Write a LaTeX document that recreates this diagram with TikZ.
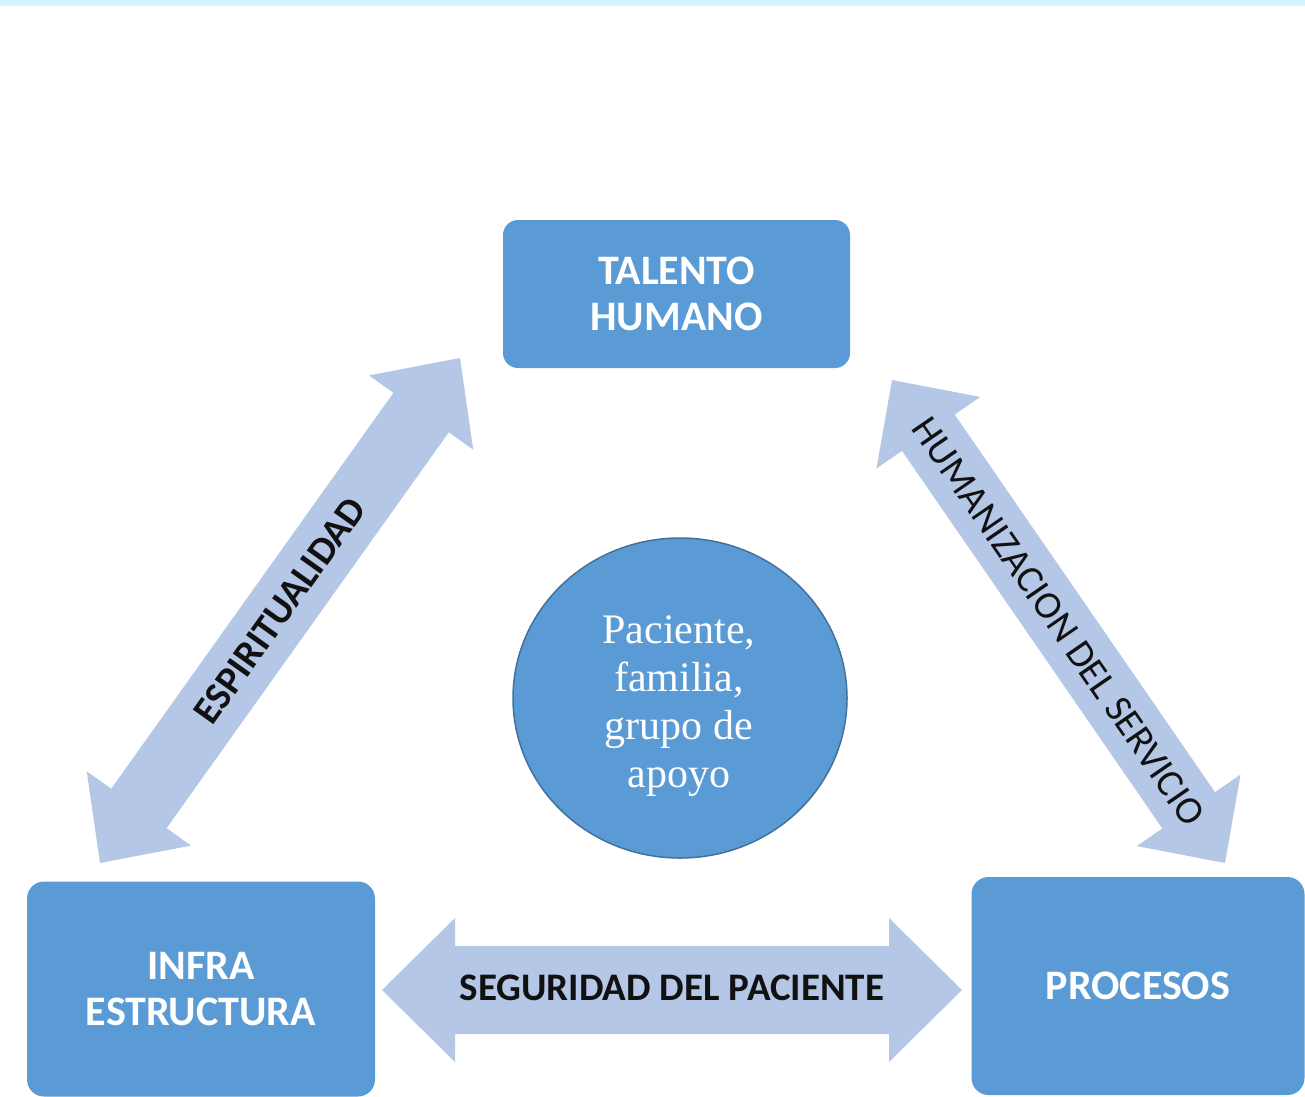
\documentclass[tikz,border=0pt]{standalone}
\usepackage{fontspec}
\setmainfont{Carlito}
\newfontfamily\circserif{Liberation Serif}
\usetikzlibrary{calc,shapes.geometric}
\definecolor{boxblue}{HTML}{5B9BD5}
\definecolor{arrowblue}{HTML}{B4C7E7}
\definecolor{circborder}{HTML}{41719C}
\definecolor{topband}{HTML}{D4F5FD}
\definecolor{lbltext}{HTML}{111111}
% double block arrow between two tip coordinates
% #1,#2 tips; #3 shaft half width; #4 head half width; #5 head length
\newcommand{\blockarrow}[5]{%
  \coordinate (ba1) at ($(#1)!#5!(#2)$);
  \coordinate (ba2) at ($(#2)!#5!(#1)$);
  \fill[arrowblue] (#1) -- ($(ba1)!#4!90:(#2)$) -- ($(ba1)!#3!90:(#2)$)
    -- ($(ba2)!#3!-90:(#1)$) -- ($(ba2)!#4!-90:(#1)$) -- (#2)
    -- ($(ba2)!#4!90:(#1)$) -- ($(ba2)!#3!90:(#1)$)
    -- ($(ba1)!#3!-90:(#2)$) -- ($(ba1)!#4!-90:(#2)$) -- cycle;}
\begin{document}
\begin{tikzpicture}[x=1pt,y=-1pt,
  box/.style={rectangle, rounded corners=15pt, fill=boxblue, text=white,
    align=center, inner sep=0pt,
    font=\bfseries\fontsize{42}{46}\selectfont},
  lblbold/.style={text=lbltext, inner sep=0pt, font=\bfseries\fontsize{39}{44}\selectfont},
  lblreg/.style={text=lbltext, inner sep=0pt, font=\fontsize{39}{44}\selectfont}]
\useasboundingbox (0,0) rectangle (1305,1096);
\fill[white] (0,0) rectangle (1305,1096);
\fill[topband] (0,0) rectangle (1305,6);

% arrow tips
\coordinate (e1) at (100,863);
\coordinate (e2) at (460,358);
\coordinate (h1) at (892,380);
\coordinate (h2) at (1225,863);
\coordinate (sL) at (382,990);
\coordinate (sR) at (962,990);

\blockarrow{e1}{e2}{34pt}{64pt}{67pt}
\blockarrow{h1}{h2}{32pt}{63pt}{64pt}
\blockarrow{sL}{sR}{44pt}{72pt}{73pt}

% boxes
\node[box, minimum width=347pt, minimum height=148pt] (th) at (676.5,294) {TALENTO\\HUMANO};
\node[box, minimum width=348pt, minimum height=215pt, rounded corners=17pt] (ie) at (201,989) {INFRA\\ESTRUCTURA};
\node[box, minimum width=333pt, minimum height=218pt, rounded corners=17pt] (pr) at (1138,986) {PROCESOS};

% centre circle
\node[ellipse, fill=boxblue, draw=circborder, line width=1.5pt,
  minimum width=334pt, minimum height=320pt, inner sep=0pt] (circ) at (680,698) {};
\node[text=white, align=center, inner sep=0pt,
  font=\circserif\fontsize{42}{48}\selectfont] (circtext) at (679,706)
  {Paciente,\\familia,\\grupo de\\apoyo};

% arrow labels
\path (e1) -- (e2) node[midway, sloped, lblbold] (espl) {ESPIRITUALIDAD};
\path (h1) -- (h2) node[midway, sloped, lblreg] (huml) {HUMANIZACION DEL SERVICIO};
\node[lblbold] (segl) at (672,988) {SEGURIDAD DEL PACIENTE};
\end{tikzpicture}
\end{document}
